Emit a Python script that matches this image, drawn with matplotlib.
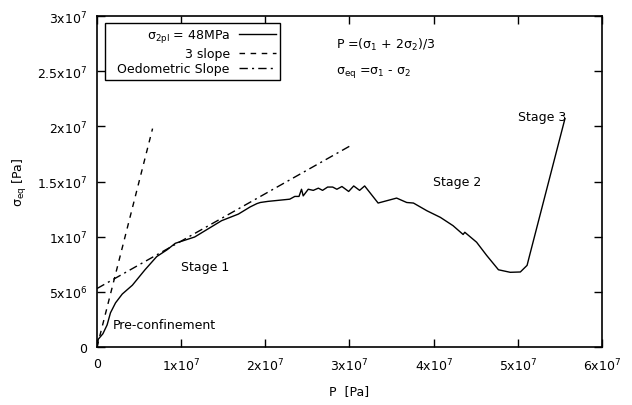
import matplotlib.pyplot as plt

# data
p_curve = [0, 1.5e5, 7e5, 1.2e6, 1.6e6, 2.2e6, 3.0e6, 4.2e6, 5.7e6, 7.1e6, 8.3e6, 9.3e6,
           1.16e7, 1.48e7, 1.68e7, 1.82e7, 1.9e7, 1.94e7, 2.03e7, 2.29e7, 2.35e7, 2.40e7,
           2.43e7, 2.45e7, 2.51e7, 2.57e7, 2.63e7, 2.68e7, 2.74e7, 2.80e7, 2.85e7, 2.91e7,
           2.99e7, 3.05e7, 3.12e7, 3.18e7, 3.34e7, 3.56e7, 3.68e7, 3.76e7, 3.92e7, 4.08e7,
           4.23e7, 4.35e7, 4.37e7, 4.51e7, 4.63e7, 4.77e7, 4.91e7, 5.03e7, 5.11e7, 5.14e7,
           5.56e7]
s_curve = [0, 7e5, 1.2e6, 2.0e6, 3.1e6, 4.0e6, 4.8e6, 5.6e6, 7.0e6, 8.2e6, 8.8e6, 9.4e6,
           9.97e6, 1.145e7, 1.205e7, 1.27e7, 1.30e7, 1.31e7, 1.32e7, 1.34e7, 1.365e7, 1.365e7,
           1.43e7, 1.37e7, 1.43e7, 1.42e7, 1.44e7, 1.42e7, 1.45e7, 1.45e7, 1.43e7, 1.455e7,
           1.41e7, 1.46e7, 1.42e7, 1.46e7, 1.305e7, 1.35e7, 1.31e7, 1.305e7, 1.235e7, 1.175e7,
           1.10e7, 1.02e7, 1.04e7, 9.5e6, 8.3e6, 7.0e6, 6.77e6, 6.8e6, 7.4e6, 8.3e6,
           2.07e7]

p_slope3 = [0, 6.6e6]
s_slope3 = [0, 1.98e7]

p_oedo = [0, 3.0e7]
s_oedo = [5.3e6, 1.82e7]

x_ticks = [0, 1e7, 2e7, 3e7, 4e7, 5e7, 6e7]
x_labels = ["0", r"1x10$^7$", r"2x10$^7$", r"3x10$^7$", r"4x10$^7$", r"5x10$^7$", r"6x10$^7$"]
y_ticks = [0, 5e6, 1e7, 1.5e7, 2e7, 2.5e7, 3e7]
y_labels = ["0", r"5x10$^6$", r"1x10$^7$", r"1.5x10$^7$", r"2x10$^7$", r"2.5x10$^7$", r"3x10$^7$"]

plt.rcParams["font.family"] = "DejaVu Sans"
plt.rcParams["font.size"] = 9
plt.rcParams["mathtext.default"] = "regular"

fig = plt.figure(figsize=(6.32, 4.06), dpi=100)
ax = fig.add_axes([0.1535, 0.1429, 0.799, 0.815])

ax.plot(p_curve, s_curve, color="black", linewidth=1.0, label=r"$\sigma_{2pl}$ = 48MPa")
ax.plot(p_slope3, s_slope3, color="black", linewidth=1.0, linestyle=(0, (4, 4)), label="3 slope")
ax.plot(p_oedo, s_oedo, color="black", linewidth=1.0, linestyle=(0, (6, 3, 1.5, 3)),
        label="  Oedometric Slope")

ax.set_xlim(0, 6e7)
ax.set_ylim(0, 3e7)
ax.set_xticks(x_ticks)
ax.set_xticklabels(x_labels)
ax.set_yticks(y_ticks)
ax.set_yticklabels(y_labels)
ax.tick_params(direction="in", length=6, width=1, top=True, right=True, pad=7)
for sp in ax.spines.values():
    sp.set_linewidth(1.2)

ax.set_xlabel("P  [Pa]", labelpad=8)
ax.set_ylabel(r"$\sigma_{eq}$ [Pa]", labelpad=6)

ax.text(2.84e7, 2.746e7, r"P =($\sigma_1$ + 2$\sigma_2$)/3", va="center")
ax.text(2.84e7, 2.50e7, r"$\sigma_{eq}$ =$\sigma_1$ - $\sigma_2$", va="center")
ax.text(5.0e7, 2.09e7, "Stage 3", va="center")
ax.text(3.99e7, 1.50e7, "Stage 2", va="center")
ax.text(1.0e7, 7.3e6, "Stage 1", va="center")
ax.text(1.9e6, 2.0e6, "Pre-confinement", va="center")

leg = ax.legend(loc="upper left", bbox_to_anchor=(0.016, 0.979), borderaxespad=0,
                markerfirst=False, handlelength=3.0, fancybox=False, framealpha=1,
                edgecolor="black", labelspacing=0.2, borderpad=0.35, handletextpad=0.7)
leg.get_frame().set_linewidth(1.0)
for t in leg.get_texts():
    t.set_ha("right")

fig.savefig("out.png", dpi=100)
